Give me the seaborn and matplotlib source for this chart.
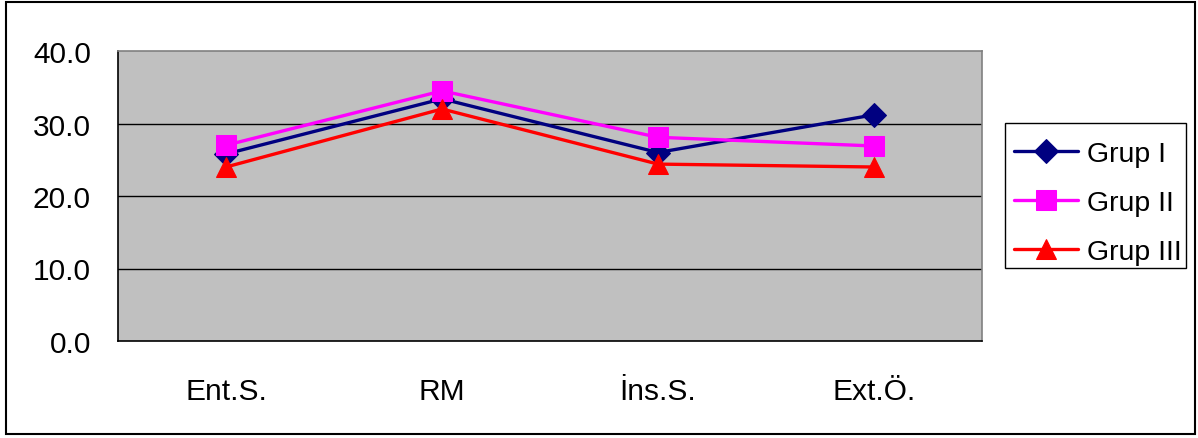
import matplotlib
matplotlib.use("Agg")
import matplotlib.pyplot as plt
import matplotlib.patches as mpatches
import seaborn as sns
import pandas as pd

# Measurement categories and group means
categories = ["Ent.S.", "RM", "İns.S.", "Ext.Ö."]
grup_1 = [25.8, 33.4, 26.0, 31.2]
grup_2 = [27.0, 34.5, 28.1, 26.9]
grup_3 = [24.0, 32.0, 24.4, 24.0]
group_names = ["Grup I", "Grup II", "Grup III"]
y_ticks = [0, 10, 20, 30, 40]

colors = {"Grup I": "#000080", "Grup II": "#FF00FF", "Grup III": "#FF0000"}
markers = {"Grup I": "D", "Grup II": "s", "Grup III": "^"}
msizes = {"Grup I": 12, "Grup II": 14, "Grup III": 15}

rows = []
for name, vals in zip(group_names, [grup_1, grup_2, grup_3]):
    for i, (c, v) in enumerate(zip(categories, vals)):
        rows.append({"pos": i, "category": c, "value": v, "group": name})
df = pd.DataFrame(rows)

sns.set_theme(style="white")
plt.rcParams["font.family"] = ["Liberation Sans", "DejaVu Sans"]
plt.rcParams["text.color"] = "black"
plt.rcParams["xtick.color"] = "black"
plt.rcParams["ytick.color"] = "black"
FS = 21.5
LEG_FS = 20.5

fig = plt.figure(figsize=(11.98, 4.39), dpi=100)
ax = fig.add_axes([118 / 1198, 1 - 342 / 439, 864 / 1198, 290 / 439])
ax.set_facecolor("#C0C0C0")

for name in group_names:
    sub = df[df["group"] == name]
    sns.lineplot(data=sub, x="pos", y="value", ax=ax, color=colors[name],
                 marker=markers[name], markersize=msizes[name],
                 markeredgecolor=colors[name], linewidth=2.4, label=name,
                 legend=False, zorder=3)

ax.set_xlim(-0.5, len(categories) - 0.5)
ax.set_ylim(0, 40)
ax.set_yticks(y_ticks)
ax.set_yticklabels([f"{t:.1f}" for t in y_ticks], fontsize=FS, color="black")
ax.set_xticks(range(len(categories)))
ax.set_xticklabels(categories, fontsize=FS, color="black")
ax.tick_params(axis="x", length=0, pad=26)
ax.tick_params(axis="y", length=7, width=1, color="black", direction="out", pad=12.5)
ax.set_xlabel("")
ax.set_ylabel("")

# category boundary ticks below the x axis
ax.set_xticks([i - 0.5 for i in range(len(categories) + 1)], minor=True)
ax.tick_params(axis="x", which="minor", length=7, width=1, color="black", direction="out")

for y in y_ticks[1:-1]:
    ax.axhline(y, color="black", linewidth=1.0, zorder=1)

for side in ["top", "right"]:
    ax.spines[side].set_color("#808080")
    ax.spines[side].set_linewidth(1.2)
for side in ["left", "bottom"]:
    ax.spines[side].set_color("black")
    ax.spines[side].set_linewidth(1.2)

handles, labels = ax.get_legend_handles_labels()
leg = fig.legend(handles, labels, loc="center left",
                 bbox_to_anchor=(1014 / 1198, 1 - 204 / 439),
                 fontsize=LEG_FS, frameon=False, handlelength=2.25, borderpad=0,
                 labelspacing=0.80, handletextpad=0.32, borderaxespad=0)

# legend frame
fig.patches.append(mpatches.Rectangle((1005 / 1198, 1 - 269 / 439), 181 / 1198, 145 / 439,
                                      transform=fig.transFigure, fill=False,
                                      edgecolor="black", linewidth=1.0))

# outer chart border
fig.patches.append(mpatches.Rectangle((6 / 1198, 1 - 435 / 439), 1189 / 1198, 432 / 439,
                                      transform=fig.transFigure, fill=False,
                                      edgecolor="black", linewidth=1.5))

fig.savefig("out.png", dpi=100)
